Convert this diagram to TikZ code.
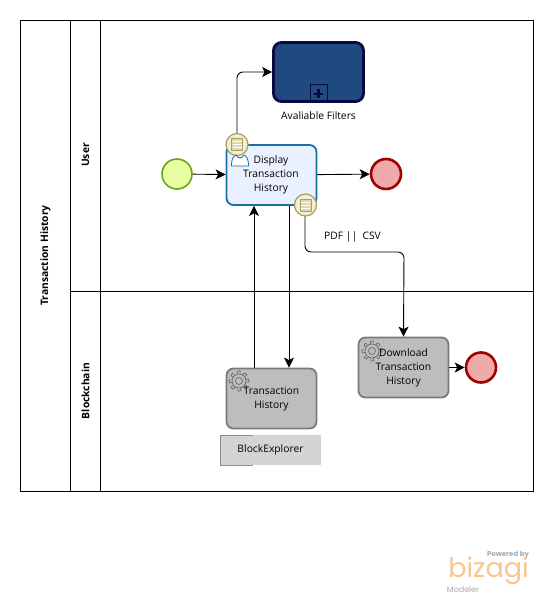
\documentclass[tikz,border=0pt]{standalone}
\usepackage{fontspec}
\setmainfont{Open Sans}
\newfontfamily\logofont{Poppins}
\usetikzlibrary{arrows.meta}
\definecolor{taskblue}{HTML}{EAF0FD}
\definecolor{taskedge}{HTML}{1A6FA8}
\definecolor{subfill}{HTML}{1F4A80}
\definecolor{subedge}{HTML}{0A0A40}
\definecolor{startfill}{HTML}{E6FFA0}
\definecolor{startedge}{HTML}{6BA51E}
\definecolor{endfill}{HTML}{EFA9A9}
\definecolor{endedge}{HTML}{A00000}
\definecolor{servfill}{HTML}{BDBDBD}
\definecolor{servedge}{HTML}{7A7A7A}
\definecolor{markfill}{HTML}{F3F0D2}
\definecolor{markedge}{HTML}{A89F62}
\definecolor{logoorange}{HTML}{F9C591}
\definecolor{logogrey}{HTML}{A3ADB5}
\tikzset{
  every node/.style={font=\fontsize{10.3}{14}\selectfont,align=center,inner sep=0pt},
  flow/.style={draw=black,line width=0.9pt,rounded corners=6pt,-{Stealth[length=10pt,width=10pt,inset=2.5pt]}},
  lane/.style={draw=black,line width=0.6pt},
  lanetext/.style={rotate=90,font=\fontsize{10.3}{12}\selectfont\bfseries},
  usertask/.style={draw=taskedge,fill=taskblue,line width=1.8pt,rounded corners=7pt,minimum width=90pt,minimum height=60pt},
  servtask/.style={draw=servedge,fill=servfill,line width=1.8pt,rounded corners=7pt,minimum width=90pt,minimum height=60pt},
  subtask/.style={draw=subedge,fill=subfill,line width=2.8pt,rounded corners=8pt,minimum width=90pt,minimum height=59pt},
  startev/.style={circle,draw=startedge,fill=startfill,line width=1.6pt,minimum size=30pt},
  endev/.style={circle,draw=endedge,fill=endfill,line width=2.6pt,minimum size=30pt},
  marker/.style={circle,draw=markedge,fill=markfill,line width=1.2pt,minimum size=22pt},
  gear/.style={draw=servedge!80!black,line width=0.6pt,fill=none},
}
% gear icon of a service task, #1 = centre
\newcommand{\geartask}[1]{
  \foreach \a in {0,45,...,315}
    \draw[gear] (#1) ++(\a-12:7) -- ++(\a-12:2.5) -- ++(\a+70:3) -- ++(\a+170:2.5);
  \draw[gear] (#1) circle (7);
  \draw[gear] (#1) circle (3.5);
}
% list icon of a marker, #1 = centre
\newcommand{\listicon}[1]{
  \draw[markedge,fill=markfill!70!markedge,line width=0.9pt] (#1) ++(-5.5,-6) rectangle ++(11,12);
  \foreach \b in {-3,0,3}
    \draw[white,line width=0.9pt] (#1) ++(-4.5,\b) -- ++(9,0);
}
\begin{document}
\begin{tikzpicture}[x=1pt,y=-1pt]
  \useasboundingbox (0,0) rectangle (553,604);
  \fill[white] (0,0) rectangle (553,604);

  % pool and lanes
  \draw[lane] (20,20) rectangle (533,491);
  \draw[lane] (70,20) -- (70,491);
  \draw[lane] (100,20) -- (100,491);
  \draw[lane] (70,291) -- (533,291);
  \node[lanetext] (pooltitle) at (45.5,255.5) {Transaction History};
  \node[lanetext] (usertitle) at (85.5,155) {User};
  \node[lanetext] (chaintitle) at (85.5,391) {Blockchain};

  % tasks
  \node[subtask] (filters) at (318.5,72) {};
  \node (filterstext) at (318.5,116) {Avaliable Filters};
  \node[startev] (start) at (177,174) {};
  \node[usertask] (display) at (271.5,175) {};
  \node[endev] (endone) at (386,174) {};
  \node[servtask] (history) at (271.5,398.5) {};
  \node[servtask] (download) at (403.5,367.5) {};
  \node[endev] (endtwo) at (481,367.5) {};
  \node[fill=black!17,minimum width=101pt,minimum height=30pt] (explorer) at (270.5,450) {BlockExplorer};
  \draw[black!45,line width=0.6pt] (253,435) -- (220,435) -- (220,465) -- (253,465);

  % expand box of the sub-process
  \draw[subedge,line width=1pt] (310,85) rectangle (327,102);
  \draw[subedge,line width=2.4pt] (314,94) -- (323,94) (318.5,89.5) -- (318.5,98.5);

  % flows
  \draw[flow] ([xshift=-34.5pt]display.north) -- (237,72) -- (filters.west);
  \draw[flow] (start) -- (display);
  \draw[flow] (display) -- (endone);
  \draw[flow] ([xshift=-17.5pt]history.north) -- ([xshift=-17.5pt]display.south);
  \draw[flow] ([xshift=17.5pt]display.south) -- ([xshift=17.5pt]history.north);
  \draw[flow] ([xshift=33.5pt]display.south) -- (305,252) -- (404,252) -- (download.north);
  \draw[flow] (download) -- (endtwo);
  \node (flowtext) at (352.5,236.5) {PDF ||\ \ CSV};

  % icons
  \geartask{239,381}
  \geartask{372,351}
  \node[marker] (markerone) at (237,144.5) {};
  \listicon{237,144.5}
  \node[marker] (markertwo) at (305.5,205) {};
  \listicon{305.5,205}
  \draw[taskedge,line width=0.8pt,fill=white] (231.5,166) .. controls (231.5,158) and (234,156) .. (236,155) .. controls (238,159) and (242,159) .. (244,155) .. controls (246,156) and (248.5,158) .. (248.5,166) -- cycle;

  % task labels
  \node (displaytext) at (271,175) {Display\\Transaction\\History};
  \node (historytext) at (271.5,399) {Transaction\\History};
  \node (downloadtext) at (403.5,368) {Download\\Transaction\\History};

  % logo
  \node[font=\logofont\fontsize{7}{8}\selectfont\bfseries,text=logogrey] (powered) at (508,555) {Powered by};
  \node[font=\logofont\fontsize{27}{30}\selectfont,text=logoorange] (bizagi) at (488.5,571) {bizagi};
  \node[font=\logofont\fontsize{8}{9}\selectfont,text=logogrey] (modeler) at (463,590) {Modeler};
\end{tikzpicture}
\end{document}
